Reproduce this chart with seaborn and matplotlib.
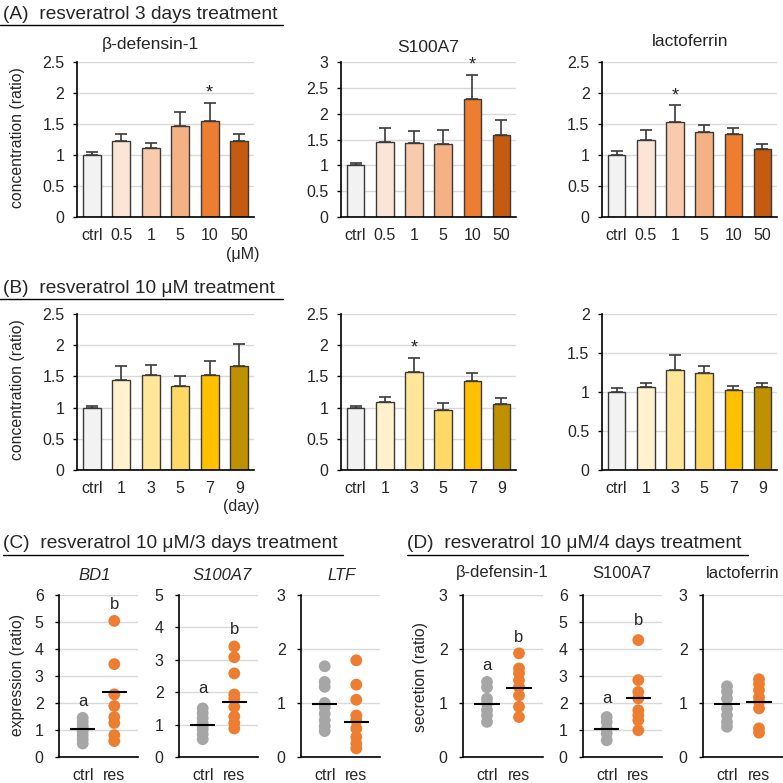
import numpy as np
import pandas as pd
import matplotlib
matplotlib.use("Agg")
import matplotlib.pyplot as plt
from matplotlib.lines import Line2D
from matplotlib.ticker import FuncFormatter, MultipleLocator
import seaborn as sns

# ---- data ----
conc_cats = ["ctrl", "0.5", "1", "5", "10", "50"]
day_cats = ["ctrl", "1", "3", "5", "7", "9"]

a_bd1 = [1.00, 1.23, 1.12, 1.46, 1.55, 1.23]
a_bd1_err = [0.05, 0.11, 0.07, 0.23, 0.29, 0.11]
a_s100 = [1.00, 1.45, 1.44, 1.41, 2.28, 1.59]
a_s100_err = [0.04, 0.27, 0.23, 0.28, 0.47, 0.29]
a_ltf = [1.00, 1.25, 1.53, 1.37, 1.34, 1.10]
a_ltf_err = [0.07, 0.15, 0.27, 0.12, 0.09, 0.08]

b_bd1 = [1.00, 1.45, 1.53, 1.34, 1.52, 1.67]
b_bd1_err = [0.02, 0.22, 0.15, 0.17, 0.23, 0.35]
b_s100 = [1.00, 1.09, 1.57, 0.96, 1.42, 1.06]
b_s100_err = [0.03, 0.08, 0.22, 0.11, 0.13, 0.10]
b_ltf = [1.00, 1.07, 1.28, 1.24, 1.02, 1.07]
b_ltf_err = [0.045, 0.045, 0.20, 0.09, 0.06, 0.04]

orange_shades = ["#f2f2f2", "#fbe5d6", "#f8cbad", "#f4b183", "#ed7d31", "#c55a11"]
gold_shades = ["#f2f2f2", "#fff2cc", "#ffe699", "#ffd966", "#ffc000", "#bf9000"]

c_bd1_ctrl = [1.45, 1.30, 1.15, 1.05, 0.95, 0.80, 0.65, 0.50]
c_bd1_res = [5.04, 3.44, 2.32, 1.89, 1.48, 1.26, 0.81, 0.59]
c_bd1_mean = [1.02, 2.41]
c_s100_ctrl = [1.50, 1.35, 1.20, 1.05, 0.95, 0.85, 0.70, 0.55]
c_s100_res = [3.41, 3.08, 2.58, 1.93, 1.80, 1.55, 1.25, 1.05, 0.88]
c_s100_mean = [0.99, 1.69]
c_ltf_ctrl = [1.68, 1.39, 1.30, 1.00, 0.92, 0.80, 0.68, 0.57, 0.48]
c_ltf_res = [1.79, 1.34, 1.06, 0.77, 0.68, 0.53, 0.37, 0.25, 0.16]
c_ltf_mean = [0.99, 0.64]

d_bd1_ctrl = [1.39, 1.29, 1.08, 0.99, 0.87, 0.77, 0.65]
d_bd1_res = [1.92, 1.64, 1.55, 1.42, 1.30, 1.14, 0.93, 0.74]
d_bd1_mean = [0.99, 1.27]
d_s100_ctrl = [1.48, 1.30, 1.05, 0.87, 0.62]
d_s100_res = [4.33, 2.85, 2.41, 2.17, 1.73, 1.55, 1.36, 0.99]
d_s100_mean = [1.02, 2.20]
d_ltf_ctrl = [1.31, 1.21, 1.08, 0.90, 0.77, 0.65, 0.56]
d_ltf_res = [1.44, 1.35, 1.24, 1.11, 1.02, 0.90, 0.53, 0.45]
d_ltf_mean = [0.99, 1.01]

dot_colors = {"ctrl": "#a6a6a6", "res": "#ed7d31"}

# ---- figure setup ----
sns.set_style("white")
plt.rcParams["font.family"] = ["Liberation Sans", "DejaVu Sans"]

W = H = 783
TICK = 11.5
fig = plt.figure(figsize=(7.83, 7.83), dpi=100)
fmt = FuncFormatter(lambda v, p: f"{v:g}")


def px_axes(x0, x1, y0, y1):
    return fig.add_axes([x0 / W, 1 - y1 / H, (x1 - x0) / W, (y1 - y0) / H])


def ftext(x, y, s, **kw):
    fig.text(x / W, 1 - y / H, s, **kw)


def hline(x0, x1, y):
    fig.add_artist(Line2D([x0 / W, x1 / W], [1 - y / H, 1 - y / H],
                          transform=fig.transFigure, color="black", lw=1))


def style_axes(ax, ymax, step, ypad, xpad):
    ax.set_ylim(0, ymax)
    ax.yaxis.set_major_locator(MultipleLocator(step))
    ax.yaxis.set_major_formatter(fmt)
    ax.set_axisbelow(True)
    ax.yaxis.grid(True, color="#d9d9d9", lw=1)
    ax.xaxis.grid(False)
    for s in ["top", "right"]:
        ax.spines[s].set_visible(False)
    for s in ["left", "bottom"]:
        ax.spines[s].set_color("black")
        ax.spines[s].set_linewidth(1.2)
    ax.tick_params(axis="y", length=3, width=1, color="black", direction="out",
                   left=True, pad=ypad, labelsize=TICK)
    ax.tick_params(axis="x", length=0, pad=xpad, labelsize=TICK)
    ax.set_xlabel("")
    ax.set_ylabel("")


def bar_panel(box, cats, vals, errs, colors, ymax, star=None):
    ax = px_axes(*box)
    sns.barplot(x=cats, y=vals, order=cats, hue=cats, palette=colors, legend=False,
                saturation=1, edgecolor="#3a3a3a", linewidth=1, width=0.6, ax=ax)
    n = len(cats)
    ax.errorbar(range(n), vals, yerr=[np.zeros(n), errs], fmt="none",
                ecolor="#3a3a3a", elinewidth=1.2, capsize=4, capthick=1.2)
    ax.set_xlim(-0.5, n - 0.5)
    style_axes(ax, ymax, 0.5, 6, 8)
    if star is not None:
        ax.annotate("*", (star, vals[star] + errs[star]), xytext=(0, 1),
                    textcoords="offset points", ha="center", va="bottom", fontsize=13)
    return ax


def dot_panel(box, ctrl, res, means, ymax, letters=None):
    ax = px_axes(*box)
    df = pd.DataFrame({"group": ["ctrl"] * len(ctrl) + ["res"] * len(res),
                       "value": ctrl + res})
    sns.stripplot(data=df, x="group", y="value", hue="group", order=["ctrl", "res"],
                  palette=dot_colors, jitter=False, size=8.5, linewidth=0,
                  legend=False, ax=ax, zorder=2)
    ax.hlines(means, [-0.4, 0.6], [0.4, 1.4], color="black", lw=1.5, zorder=4)
    ax.set_xlim(-0.75, 1.75)
    style_axes(ax, ymax, 1, 8, 8)
    if letters:
        for xi, yi, t in letters:
            ax.text(xi, yi, t, ha="center", va="center", fontsize=12)
    return ax


HEAD = 13.8
YLAB = 11.3

# ---- (A) ----
ftext(3, 19, "(A)  resveratrol 3 days treatment", fontsize=HEAD, va="baseline")
hline(0, 283, 25)
bar_panel((77, 254, 62, 217), conc_cats, a_bd1, a_bd1_err, orange_shades, 2.5, star=4)
bar_panel((341, 516, 62, 217), conc_cats, a_s100, a_s100_err, orange_shades, 3, star=4)
bar_panel((602, 777, 62, 217), conc_cats, a_ltf, a_ltf_err, orange_shades, 2.5, star=2)
ftext(150, 45, "β-defensin-1", fontsize=12.5, ha="center", va="center")
ftext(428, 48, "S100A7", fontsize=12.5, ha="center", va="center")
ftext(690, 41, "lactoferrin", fontsize=12.5, ha="center", va="center")
ftext(18, 138, "concentration (ratio)", fontsize=YLAB, rotation=90, ha="center", va="center")
ftext(243, 255, "(μM)", fontsize=TICK, ha="center", va="center")

# ---- (B) ----
ftext(3, 293, "(B)  resveratrol 10 μM treatment", fontsize=HEAD, va="baseline")
hline(0, 283, 299)
bar_panel((77, 254, 314, 470), day_cats, b_bd1, b_bd1_err, gold_shades, 2.5)
bar_panel((341, 516, 314, 470), day_cats, b_s100, b_s100_err, gold_shades, 2.5, star=2)
bar_panel((602, 777, 314, 470), day_cats, b_ltf, b_ltf_err, gold_shades, 2)
ftext(18, 390, "concentration (ratio)", fontsize=YLAB, rotation=90, ha="center", va="center")
ftext(241, 506, "(day)", fontsize=TICK, ha="center", va="center")

# ---- (C) ----
ftext(3, 548, "(C)  resveratrol 10 μM/3 days treatment", fontsize=HEAD, va="baseline")
hline(3, 343, 555)
dot_panel((59, 138, 595, 757), c_bd1_ctrl, c_bd1_res, c_bd1_mean, 6,
          letters=[(0, 2.04, "a"), (1, 5.63, "b")])
dot_panel((179, 258, 595, 757), c_s100_ctrl, c_s100_res, c_s100_mean, 5,
          letters=[(0, 2.12, "a"), (1, 3.92, "b")])
dot_panel((301, 380, 595, 757), c_ltf_ctrl, c_ltf_res, c_ltf_mean, 3)
ftext(95, 575, "BD1", fontsize=12, style="italic", ha="center", va="center")
ftext(222, 575, "S100A7", fontsize=12, style="italic", ha="center", va="center")
ftext(342, 575, "LTF", fontsize=12, style="italic", ha="center", va="center")
ftext(18, 675, "expression (ratio)", fontsize=YLAB, rotation=90, ha="center", va="center")

# ---- (D) ----
ftext(407, 548, "(D)  resveratrol 10 μM/4 days treatment", fontsize=HEAD, va="baseline")
hline(407, 748, 555)
dot_panel((463, 543, 595, 757), d_bd1_ctrl, d_bd1_res, d_bd1_mean, 3,
          letters=[(0, 1.70, "a"), (1, 2.22, "b")])
dot_panel((583, 662, 595, 757), d_s100_ctrl, d_s100_res, d_s100_mean, 6,
          letters=[(0, 2.17, "a"), (1, 5.05, "b")])
dot_panel((703, 783, 595, 757), d_ltf_ctrl, d_ltf_res, d_ltf_mean, 3)
ftext(502, 573, "β-defensin-1", fontsize=12, ha="center", va="center")
ftext(622, 573, "S100A7", fontsize=12, ha="center", va="center")
ftext(743, 573, "lactoferrin", fontsize=12, ha="center", va="center")
ftext(420, 677, "secretion (ratio)", fontsize=YLAB, rotation=90, ha="center", va="center")

fig.savefig("out.png", dpi=100)
